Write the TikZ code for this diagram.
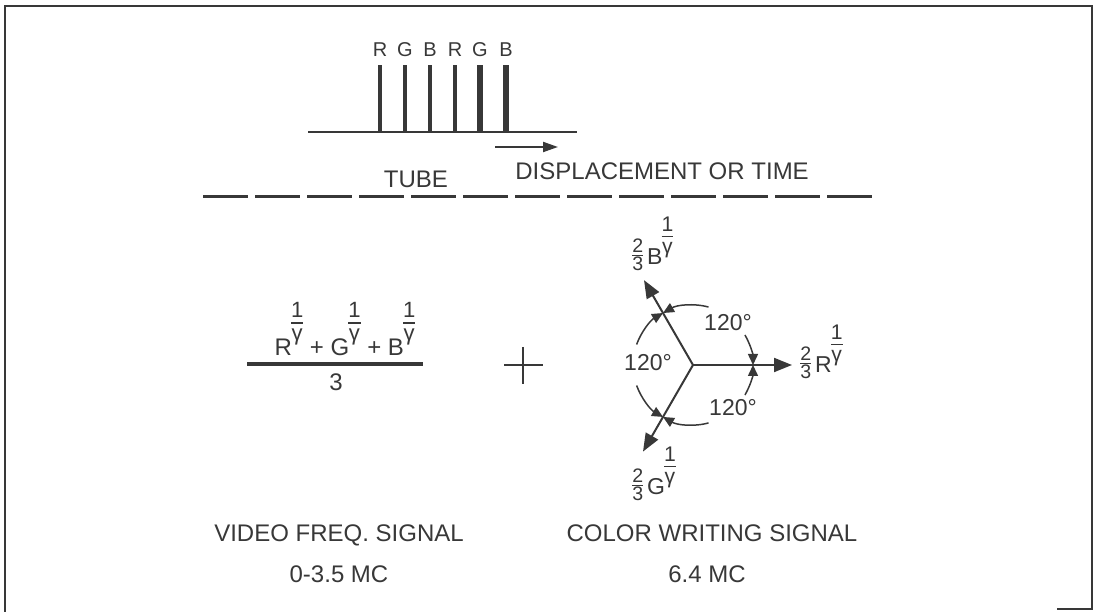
\documentclass[tikz,border=0pt]{standalone}
\usepackage{fontspec}
\setmainfont{Liberation Sans}
\usepackage{amsmath}
\usepackage{graphicx}
\usetikzlibrary{arrows.meta, positioning}
\definecolor{ink}{HTML}{383838}
% exponent 1/gamma and the prefix 2/3
\newcommand{\gexp}[1][1.15em]{\kern-0.04em\raisebox{#1}{\scalebox{0.92}{$\nulldelimiterspace=0pt\genfrac{}{}{0.8pt}{1}{\mbox{1\rule[-1.6pt]{0pt}{0pt}}}{\mbox{\rule{0pt}{0.72em}γ}}$}}}
\newcommand{\twothirds}{\raisebox{0.2em}{\scalebox{0.85}{$\nulldelimiterspace=0pt\genfrac{}{}{0.7pt}{1}{\mbox{2}}{\mbox{3}}$}}}
\tikzset{
  lbl/.style={text=ink, inner sep=0pt, font=\fontsize{12}{14}\selectfont},
  chan/.style={text=ink, inner sep=0pt, font=\fontsize{10}{11}\selectfont},
  vlab/.style={text=ink, inner sep=0pt, font=\fontsize{11.5}{13}\selectfont},
  ang/.style={text=ink, inner sep=0pt, font=\fontsize{11.5}{13}\selectfont},
  pulse/.style={draw=ink, line width=#1},
  vec/.style={draw=ink, line width=1pt, -{Triangle[length=9pt, width=7pt]}},
  arcarr/.style={draw=ink, line width=0.75pt, -{Triangle[length=5.5pt, width=5pt]}},
  frame/.style={draw=ink, line width=1.2pt},
}
\begin{document}
\begin{tikzpicture}[x=0.5pt, y=-0.5pt]
  \useasboundingbox (0,0) rectangle (1099,613);
  \draw[frame] (5,612) -- (5,6) -- (1092,6) -- (1092,609) -- (1057,609);

  % tube pulses
  \coordinate (t0) at (308,132);
  \coordinate (t1) at (577,132);
  \draw[ink, line width=1pt] (t0) -- (t1);
  \foreach \x/\c/\w [count=\i] in {380/R/1.8pt, 405/G/1.8pt, 430/B/1.8pt,
      455/R/1.8pt, 480/G/2.8pt, 506/B/2.8pt} {
    \coordinate (p\i) at (\x,132);
    \node[chan, anchor=base] (c\i) at (\x,57) {\c};
    \draw[pulse=\w] (p\i) -- ++(0,-67);
  }
  \coordinate (d0) at (495,147);
  \coordinate (d1) at (558,147);
  \draw[ink, line width=1pt, -{Triangle[length=7.5pt, width=5pt]}] (d0) -- (d1);
  \node[lbl, anchor=base] (tube) at (416,188) {TUBE};
  \node[lbl, anchor=base west] (disp) at (515,180) {DISPLACEMENT OR TIME};
  \draw[ink, line width=1.5pt, dash pattern=on 22.5pt off 3.5pt] (203,197) -- (872,197);

  % video frequency part
  \node[lbl, anchor=base] (num) at (345,356) {R\gexp\ + G\gexp\ + B\gexp};
  \draw[ink, line width=2pt] (247,364) -- (423,364);
  \node[lbl, anchor=base] (den) at (336,391) {3};
  \draw[ink, line width=1.2pt] (504,365) -- (543,365) (523,347) -- (523,384);

  % colour writing vectors
  \begin{scope}[shift={(693,365)}, y=0.5pt]
    \coordinate (o) at (0,0);
    \coordinate (vr) at (0:99);
    \coordinate (vb) at (120:98);
    \coordinate (vg) at (240:100);
    \draw[vec] (o) -- (vr);
    \draw[vec] (o) -- (vb);
    \draw[vec] (o) -- (vg);
    \draw[arcarr] (75:60) arc[start angle=75, end angle=120, radius=30pt];
    \draw[arcarr] (30:60) arc[start angle=30, end angle=0, radius=30pt];
    \draw[arcarr] (160:60) arc[start angle=160, end angle=120, radius=30pt];
    \draw[arcarr] (200:60) arc[start angle=200, end angle=240, radius=30pt];
    \draw[arcarr] (285:60) arc[start angle=285, end angle=240, radius=30pt];
    \draw[arcarr] (330:60) arc[start angle=330, end angle=360, radius=30pt];
  \end{scope}
  \node[ang] (a1) at (728,323) {120°};
  \node[ang] (a2) at (648,363) {120°};
  \node[ang] (a3) at (733,408) {120°};
  \node[vlab, anchor=base west] (lb) at (632,265) {\twothirds\,B\gexp[1.0em]};
  \node[vlab, anchor=base west] (lr) at (800,373) {\twothirds\,R\gexp[1.0em]};
  \node[vlab, anchor=base west] (lg) at (632,495) {\twothirds\,G\gexp[1.0em]};

  % captions
  \node[lbl, anchor=base] (vid) at (339,542) {VIDEO FREQ. SIGNAL};
  \node[lbl, anchor=base] (vidf) at (339,583) {0-3.5 MC};
  \node[lbl, anchor=base] (col) at (712,542) {COLOR WRITING SIGNAL};
  \node[lbl, anchor=base] (colf) at (707,583) {6.4 MC};
\end{tikzpicture}
\end{document}
